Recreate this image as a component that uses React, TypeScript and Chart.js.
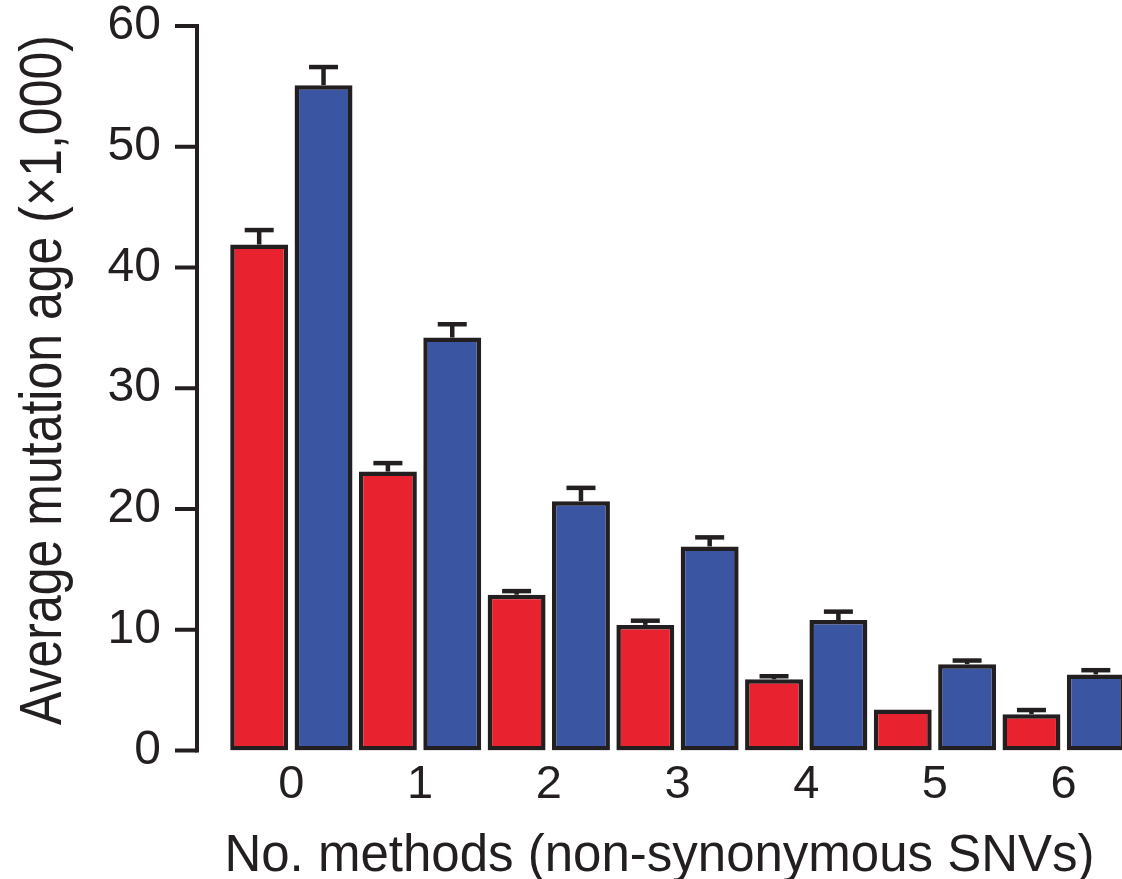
import React, { useEffect, useRef } from "react";
import { Chart, registerables } from "chart.js";

Chart.register(...registerables);

const categories = ["0", "1", "2", "3", "4", "5", "6"];
const redValues = [41.9, 23.1, 12.9, 10.4, 5.9, 3.4, 3.0];
const blueValues = [55.1, 34.2, 20.65, 16.9, 10.8, 7.15, 6.3];
const redUpper = [43.1, 23.8, 13.2, 10.75, 6.15, 3.4, 3.35];
const blueUpper = [56.6, 35.3, 21.75, 17.65, 11.5, 7.45, 6.65];
const yTickValues = [0, 10, 20, 30, 40, 50, 60];
const xTitle = "No. methods (non-synonymous SNVs)";
const yTitle = "Average mutation age (\u00d71,000)";

const FONT = "'Liberation Sans', Arial, Helvetica, sans-serif";
const INK = "#231f20";
const RED = "#e8222e";
const BLUE = "#3a55a2";

const errorBarPlugin = {
  id: "errorBars",
  afterDatasetsDraw(chart: any) {
    const ctx = chart.ctx;
    const yScale = chart.scales.y;
    const uppers = [redUpper, blueUpper];
    ctx.save();
    ctx.strokeStyle = INK;
    ctx.lineWidth = 4.5;
    ctx.lineCap = "butt";
    chart.data.datasets.forEach((_: any, i: number) => {
      const meta = chart.getDatasetMeta(i);
      meta.data.forEach((el: any, j: number) => {
        const ey = yScale.getPixelForValue(uppers[i][j]);
        const top = el.y;
        if (top - ey < 0.5) return;
        ctx.beginPath();
        ctx.moveTo(el.x, top);
        ctx.lineTo(el.x, ey);
        ctx.stroke();
        ctx.beginPath();
        ctx.moveTo(el.x - 14.5, ey);
        ctx.lineTo(el.x + 14.5, ey);
        ctx.stroke();
      });
    });
    ctx.restore();
  },
};

const axisPlugin = {
  id: "detachedAxis",
  afterDraw(chart: any) {
    const ctx = chart.ctx;
    const yScale = chart.scales.y;
    const ax = chart.chartArea.left - 30;
    const y0 = yScale.getPixelForValue(yTickValues[0]);
    const y1 = yScale.getPixelForValue(yTickValues[yTickValues.length - 1]);
    ctx.save();
    ctx.strokeStyle = INK;
    ctx.lineWidth = 4;
    ctx.lineCap = "square";
    ctx.beginPath();
    ctx.moveTo(ax, y0);
    ctx.lineTo(ax, y1);
    ctx.stroke();
    ctx.lineCap = "butt";
    yTickValues.forEach((v) => {
      const py = yScale.getPixelForValue(v);
      ctx.beginPath();
      ctx.moveTo(ax - 22, py);
      ctx.lineTo(ax, py);
      ctx.stroke();
    });
    ctx.fillStyle = INK;
    // x-axis title, centred between the axis line and the right edge
    ctx.font = `51px ${FONT}`;
    ctx.textAlign = "center";
    ctx.textBaseline = "alphabetic";
    ctx.fillText(xTitle, (ax + 1122) / 2, 871);
    // rotated y-axis title
    ctx.translate(61, 380);
    ctx.rotate(-Math.PI / 2);
    ctx.scale(1, 1.2);
    ctx.font = `50px ${FONT}`;
    ctx.textAlign = "center";
    ctx.textBaseline = "alphabetic";
    ctx.fillText(yTitle, 0, 0);
    ctx.restore();
  },
};

export default function App() {
  const ref = useRef<HTMLCanvasElement>(null);

  useEffect(() => {
    if (!ref.current) return;
    const barStyle = {
      borderColor: INK,
      borderWidth: 4.5,
      borderSkipped: false,
      categoryPercentage: 1,
      barPercentage: 0.9,
    };
    const chart = new Chart(ref.current, {
      type: "bar",
      data: {
        labels: categories,
        datasets: [
          { data: redValues, backgroundColor: RED, ...barStyle },
          { data: blueValues, backgroundColor: BLUE, ...barStyle },
        ],
      },
      options: {
        animation: false,
        responsive: false,
        devicePixelRatio: 1,
        layout: { padding: { top: 26, left: 0, right: 0, bottom: 0 } },
        plugins: {
          legend: { display: false },
          tooltip: { enabled: false },
        },
        scales: {
          x: {
            type: "category",
            grid: { display: false, drawTicks: false },
            border: { display: false },
            ticks: {
              color: INK,
              padding: 11,
              font: { family: FONT, size: 47, lineHeight: 1 },
            },
            afterFit: (s: any) => {
              s.height = 128.5;
            },
          },
          y: {
            min: 0,
            max: 60,
            grid: { display: false, drawTicks: false },
            border: { display: false },
            ticks: {
              stepSize: 10,
              color: INK,
              padding: 66,
              font: { family: FONT, size: 48, lineHeight: 1 },
            },
            afterFit: (s: any) => {
              s.width = 227;
              s.paddingTop = 20;
              s.paddingBottom = 20;
            },
          },
        },
      },
      plugins: [errorBarPlugin, axisPlugin],
    } as any);
    return () => chart.destroy();
  }, []);

  return (
    <div
      style={{
        position: "fixed",
        left: 0,
        top: 0,
        width: 1122,
        height: 879,
        overflow: "hidden",
        background: "#fff",
      }}
    >
      <canvas ref={ref} width={1128} height={879} style={{ display: "block" }} />
    </div>
  );
}
